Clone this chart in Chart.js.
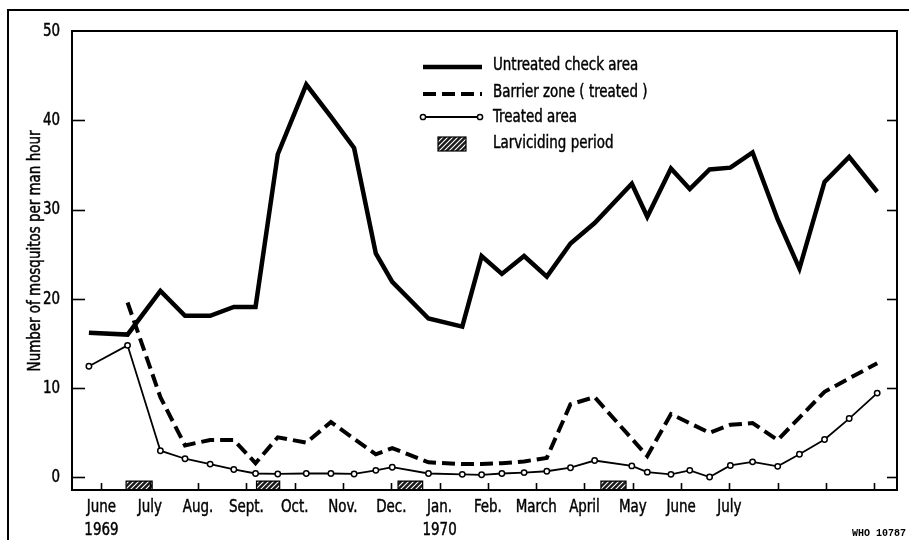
<!DOCTYPE html>
<html><head><meta charset="utf-8">
<script src="https://cdn.jsdelivr.net/npm/chart.js@4.4.1/dist/chart.umd.min.js"></script>
<style>html,body{margin:0;padding:0;background:#fff;} canvas{display:block;}</style>
</head><body>
<canvas id="c" width="909" height="540"></canvas>
<script>
const FONT = '"DejaVu Sans Condensed","DejaVu Sans",sans-serif';
const NARROW = 0.83;   // horizontal compression to imitate the condensed face

// sampling dates, in months since June 1969 (0 = June 1969 tick)
const dates = [-0.26,0.54,1.22,1.73,2.25,2.74,3.19,3.65,4.24,4.75,5.23,5.68,6.02,6.77,7.47,7.87,8.29,8.75,9.22,9.71,10.21,10.98,11.30,11.79,12.18,12.59,13.02,13.48,14.0,14.45,14.97,15.48,16.06];
const untreated = [16.2,16.0,20.9,18.1,18.1,19.1,19.1,36.2,44.0,40.4,36.9,25.1,21.9,17.8,16.9,24.8,22.8,24.8,22.5,26.2,28.5,32.9,29.2,34.6,32.3,34.5,34.7,36.4,28.9,23.4,33.1,35.9,32.0];
const barrier = [null,19.6,9.0,3.6,4.2,4.2,1.6,4.5,3.9,6.2,null,2.6,3.3,1.7,1.5,1.5,1.6,1.8,2.2,8.2,9.0,null,2.4,7.1,null,5.0,5.9,6.1,4.2,null,9.6,null,12.8];
const treated = [12.45,14.8,3.0,2.1,1.5,0.9,0.45,0.4,0.45,0.45,0.4,0.8,1.15,0.45,0.35,0.3,0.45,0.55,0.7,1.1,1.9,1.3,0.6,0.35,0.8,0.05,1.35,1.75,1.25,2.6,4.25,6.6,9.45];

const monthTicks = [0,1,2,3,4,5,6,7,8,9,10,11,12,13,14,15,16];
const monthLabels = [["June","1969"],"July","Aug.","Sept.","Oct.","Nov.","Dec.",["Jan.","1970"],"Feb.","March","April","May","June","July","","",""];
const yTicks = [0,10,20,30,40,50];

const larvStart = [0.51,3.21,6.14,10.34];
const larvEnd   = [1.05,3.69,6.65,10.86];
const larvTop = -0.4;

const seriesNames = ["Untreated check area","Barrier zone ( treated )","Treated area","Larviciding period"];
const yTitle = "Number of mosquitos per man hour";
const figId = "WHO 10787";
const yMin = -1.4, yMax = 50, xMin = -0.61, xMax = 16.47;

function hatch(){
  const c=document.createElement('canvas'); c.width=c.height=5;
  const g=c.getContext('2d');
  g.fillStyle='#1a1a1a'; g.fillRect(0,0,5,5);
  g.strokeStyle='#fff'; g.lineWidth=1.1;
  g.beginPath();
  g.moveTo(0,5); g.lineTo(5,0);
  g.moveTo(-1,1); g.lineTo(1,-1);
  g.moveTo(4,6); g.lineTo(6,4);
  g.stroke();
  return g.createPattern(c,'repeat');
}
const HATCH = hatch();

const pts = arr => dates.map((d,i)=>({x:d,y:arr[i]}));

const datasets = [
  {label:seriesNames[0], data:pts(untreated), borderColor:'#000', borderWidth:4.5, pointRadius:0, tension:0, borderJoinStyle:'miter', fill:false},
  {label:seriesNames[1], data:pts(barrier), borderColor:'#000', borderWidth:4, borderDash:[13,6], pointRadius:0, spanGaps:true, tension:0, fill:false},
  {label:seriesNames[2], data:pts(treated), borderColor:'#000', borderWidth:1.8, pointRadius:2.7, pointBackgroundColor:'#fff', pointBorderColor:'#000', pointBorderWidth:1.5, tension:0, fill:false},
];
larvStart.forEach((s,i)=>{
  const e = larvEnd[i];
  datasets.push({label:seriesNames[3], data:[{x:s,y:yMin},{x:s,y:larvTop},{x:e,y:larvTop},{x:e,y:yMin}],
    borderColor:'#000', borderWidth:1.2, backgroundColor:HATCH, fill:'start', pointRadius:0, tension:0});
});

function ctext(ctx, text, x, y, align, rot){
  ctx.save();
  ctx.translate(x,y);
  if(rot) ctx.rotate(rot);
  ctx.scale(NARROW,1);
  ctx.textAlign=align; ctx.textBaseline='middle';
  ctx.fillText(text,0,0);
  ctx.lineWidth=0.45; ctx.strokeStyle='#000';
  ctx.strokeText(text,0,0);
  ctx.restore();
}

const decor = {
  id:'decor',
  afterDraw(chart){
    const {ctx, chartArea:a, scales:{x,y}} = chart;
    ctx.save();
    ctx.strokeStyle='#000'; ctx.lineCap='butt';
    const line=(x1,y1,x2,y2)=>{ctx.beginPath();ctx.moveTo(x1,y1);ctx.lineTo(x2,y2);ctx.stroke();};
    // outer frame
    ctx.lineWidth=2;
    ctx.beginPath(); ctx.moveTo(8,540); ctx.lineTo(8,10); ctx.lineTo(909,10); ctx.stroke();
    // plot box
    ctx.strokeRect(a.left,a.top,a.right-a.left,a.bottom-a.top);
    // inward ticks
    ctx.lineWidth=1.6;
    yTicks.forEach(v=>{ if(v>=yMax) return; const py=Math.round(y.getPixelForValue(v))+0.5; line(a.left,py,a.left+13,py); line(a.right-10,py,a.right,py); });
    monthTicks.forEach(v=>{ const px=Math.round(x.getPixelForValue(v))+0.5; line(px,a.bottom,px,a.bottom-7); });

    // tick labels and axis title
    ctx.fillStyle='#000'; ctx.font='18px '+FONT;
    yTicks.forEach(v=>ctext(ctx, String(v), a.left-12, y.getPixelForValue(v), 'right'));
    monthTicks.forEach((v,i)=>{
      const lab = monthLabels[i]; const px = x.getPixelForValue(v);
      const lines = Array.isArray(lab)?lab:[lab];
      lines.forEach((t,j)=>{ if(t) ctext(ctx, t, px, a.bottom+17+j*23, 'center'); });
    });
    ctext(ctx, yTitle, 35, 251, 'center', -Math.PI/2);

    // legend
    const lx0=423, lx1=482;
    ctx.lineWidth=4.5; line(lx0,67,lx1,67);
    ctx.lineWidth=4; ctx.setLineDash([13,6]); line(lx0,94,lx1,94); ctx.setLineDash([]);
    ctx.lineWidth=1.8; line(lx0,117,lx1-2,117);
    ctx.lineWidth=1.5; ctx.fillStyle='#fff';
    [lx0,lx1-2].forEach(cx=>{ctx.beginPath();ctx.arc(cx,117,2.6,0,Math.PI*2);ctx.fill();ctx.stroke();});
    ctx.fillStyle=HATCH; ctx.fillRect(438,137,28,14);
    ctx.lineWidth=1.2; ctx.strokeRect(438,137,28,14);
    ctx.fillStyle='#000'; ctx.font='18px '+FONT;
    [65,92,117,143].forEach((ty,i)=>ctext(ctx, seriesNames[i], 493, ty, 'left'));

    // figure id
    ctx.font='bold 10px "Liberation Mono","DejaVu Sans Mono",monospace'; ctx.textAlign='right'; ctx.textBaseline='alphabetic';
    ctx.fillText(figId,906,536);
    ctx.restore();
  }
};

new Chart(document.getElementById('c'),{
  type:'line',
  data:{datasets},
  options:{
    responsive:false, animation:false, devicePixelRatio:1,
    layout:{padding:{left:0,right:12,top:31,bottom:0}},
    plugins:{legend:{display:false}, tooltip:{enabled:false}},
    scales:{
      x:{type:'linear', min:xMin, max:xMax,
        afterBuildTicks:s=>{s.ticks=monthTicks.map(v=>({value:v}));},
        afterFit:s=>{s.height=50;},
        grid:{display:false, drawTicks:false}, border:{display:false},
        ticks:{display:false}},
      y:{type:'linear', min:yMin, max:yMax,
        afterBuildTicks:s=>{s.ticks=yTicks.map(v=>({value:v}));},
        afterFit:s=>{s.width=72;},
        grid:{display:false, drawTicks:false}, border:{display:false},
        ticks:{display:false},
        title:{display:false}}
    }
  },
  plugins:[decor]
});
</script>
</body></html>
